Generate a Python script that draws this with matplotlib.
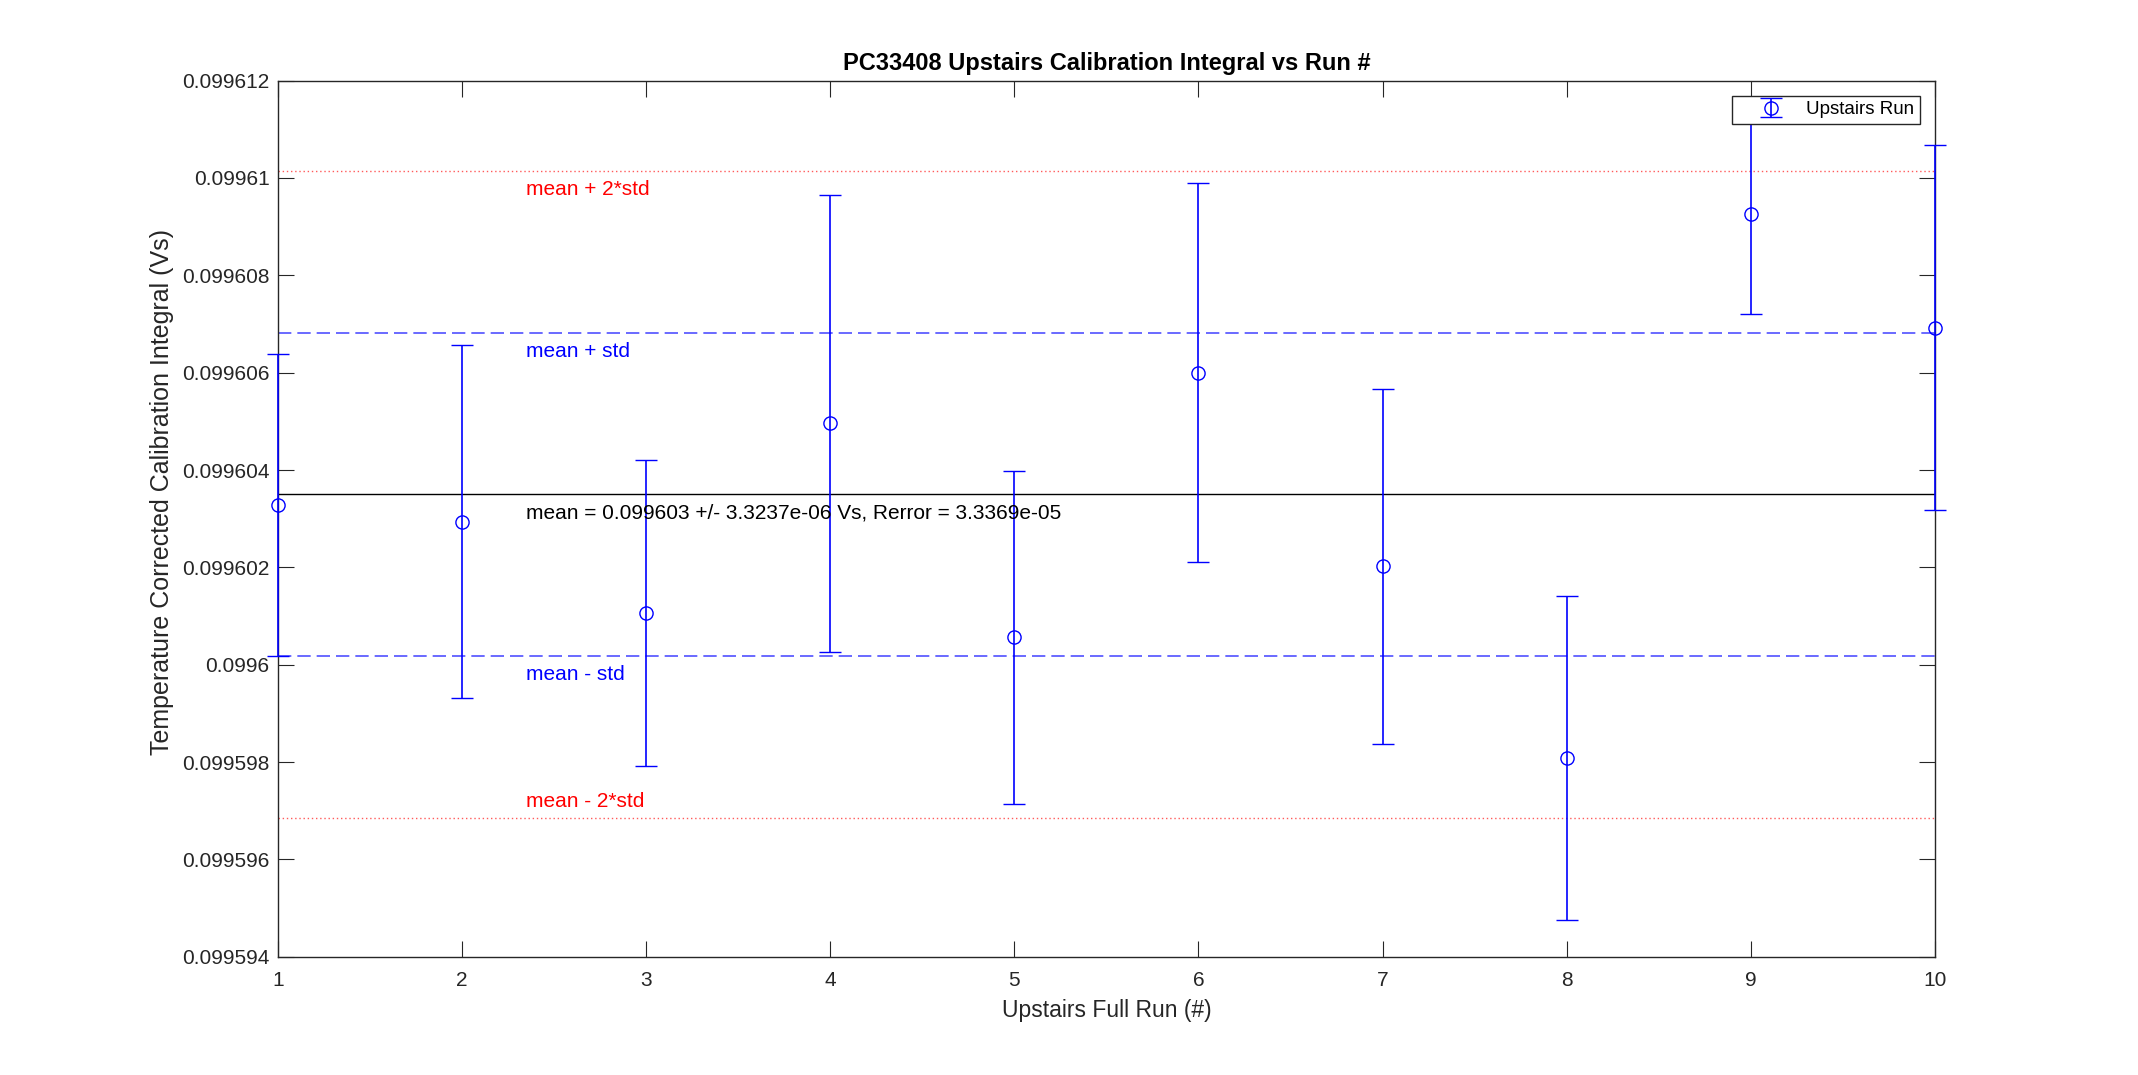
import matplotlib.pyplot as plt
import numpy as np

plt.rcParams['font.family'] = ['Liberation Sans', 'DejaVu Sans']

# donnees
runs = [1, 2, 3, 4, 5, 6, 7, 8, 9, 10]
integral = [0.09960328, 0.09960294, 0.09960106, 0.09960496, 0.09960056,
            0.09960600, 0.09960202, 0.09959809, 0.09960925, 0.09960692]
err = [3.10e-6, 3.62e-6, 3.14e-6, 4.70e-6, 3.43e-6,
       3.90e-6, 3.65e-6, 3.33e-6, 2.04e-6, 3.75e-6]

mean_val = 0.0996035
std_val = 3.3237e-6
rerror = 3.3369e-05

ink = '#262626'

fig = plt.figure(figsize=(21.38, 10.75), dpi=100)
ax = fig.add_axes([0.13, 0.11, 0.775, 0.815])

# lignes moyenne +/- std
ax.axhline(mean_val, color='k', lw=1.0, zorder=1)
ax.axhline(mean_val + std_val, color='#5050ff', lw=1.2, dashes=(8, 3.6), zorder=1)
ax.axhline(mean_val - std_val, color='#5050ff', lw=1.2, dashes=(8, 3.6), zorder=1)
ax.axhline(mean_val + 2 * std_val, color='#ff5a5a', lw=1.0, dashes=(1.0, 2.0), zorder=1)
ax.axhline(mean_val - 2 * std_val, color='#ff5a5a', lw=1.0, dashes=(1.0, 2.0), zorder=1)

ax.errorbar(runs, integral, yerr=err, fmt='o', color='b', mfc='none',
            ms=9.5, mew=1.0, elinewidth=1.2, capsize=8, capthick=1.2,
            label='Upstairs Run', zorder=3, clip_on=False)

xt = 2.35
fs = 15
ax.annotate('mean + 2*std', (xt, mean_val + 2 * std_val), xytext=(0, -13.5),
            textcoords='offset points', color='r', fontsize=fs, va='center')
ax.annotate('mean + std', (xt, mean_val + std_val), xytext=(0, -13.5),
            textcoords='offset points', color='b', fontsize=fs, va='center')
ax.annotate('mean = %g +/- %.4e Vs, Rerror = %.4e' % (0.099603, std_val, rerror),
            (xt, mean_val), xytext=(0, -13.5),
            textcoords='offset points', color='k', fontsize=fs, va='center')
ax.annotate('mean - std', (xt, mean_val - std_val), xytext=(0, -13.5),
            textcoords='offset points', color='b', fontsize=fs, va='center')
ax.annotate('mean - 2*std', (xt, mean_val - 2 * std_val), xytext=(0, 11.5),
            textcoords='offset points', color='r', fontsize=fs, va='center')

ax.set_xlim(1, 10)
ax.set_ylim(0.099594, 0.099612)
ax.set_xticks(runs)
yt = np.arange(0.099594, 0.0996121, 0.000002)
ax.set_yticks(yt)
ax.set_yticklabels(['%g' % v for v in yt])

ax.tick_params(direction='in', length=11.5, width=0.8, colors=ink,
               labelsize=fs, top=True, right=True)
ax.tick_params(axis='x', pad=10)
ax.tick_params(axis='y', pad=6)
for s in ax.spines.values():
    s.set_color(ink)
    s.set_linewidth(1.0)

ax.set_title('PC33408 Upstairs Calibration Integral vs Run #', fontsize=17,
             fontweight='bold', pad=8)
ax.set_xlabel('Upstairs Full Run (#)', fontsize=16.5, color=ink, labelpad=7)
ax.set_ylabel('Temperature Corrected Calibration Integral (Vs)', fontsize=18,
              color=ink)
ax.yaxis.set_label_coords(-0.063, 0.53)

leg = ax.legend(loc='upper right', fontsize=13.5, fancybox=False, framealpha=1,
                edgecolor=ink, borderaxespad=0.8, borderpad=0.3,
                handlelength=3.5, handletextpad=0.15)
leg.get_frame().set_linewidth(1.0)
leg.set_zorder(5)

plt.savefig('out.png', dpi=100)
